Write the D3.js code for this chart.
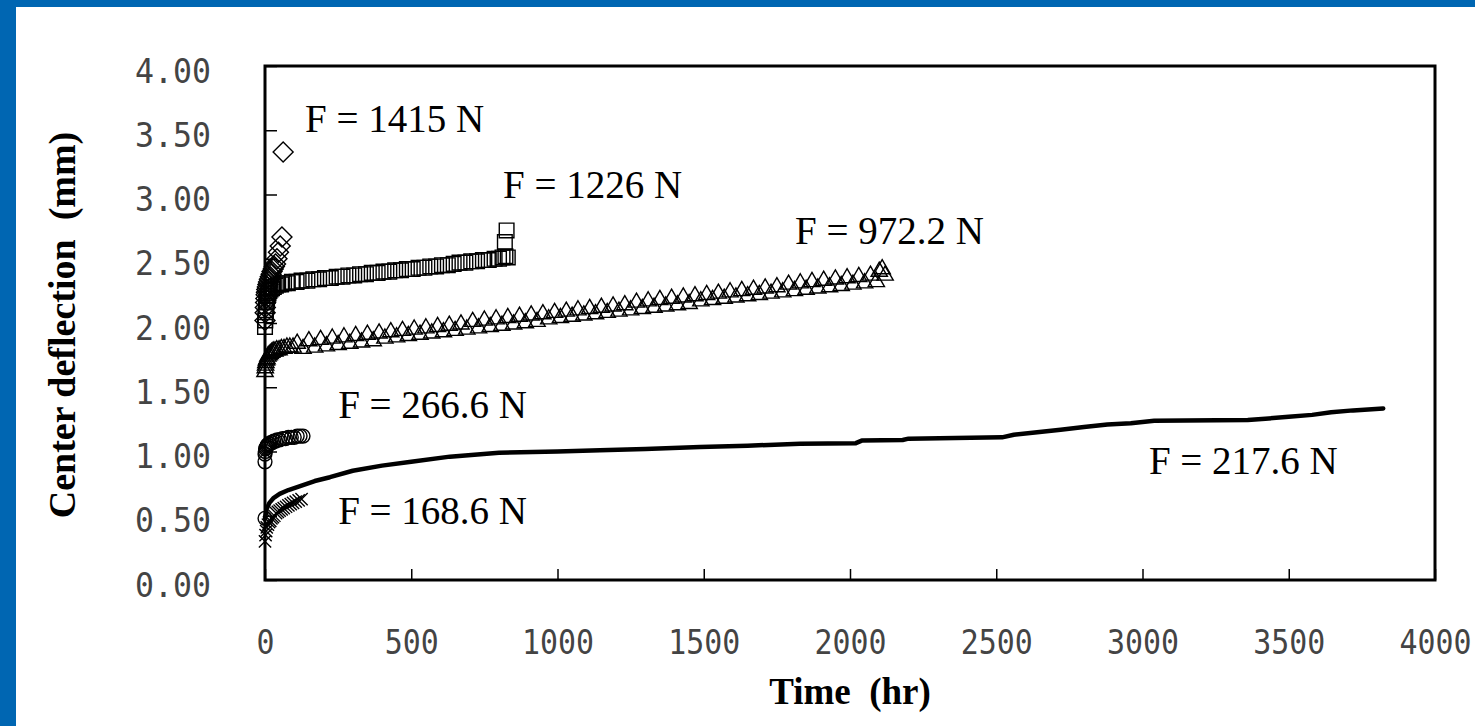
<!DOCTYPE html>
<html>
<head>
<meta charset="utf-8">
<script src="https://cdn.jsdelivr.net/npm/d3@7"></script>
<style>
  html, body { margin: 0; padding: 0; background: #fff; overflow: hidden; }
</style>
</head>
<body>
<svg id="chart" width="1475" height="726"></svg>
<script>
// ---- data: center deflection (mm) vs time (hr) under constant load ----
const xTicks = [0, 500, 1000, 1500, 2000, 2500, 3000, 3500, 4000];
const yTicks = [0, 0.5, 1.0, 1.5, 2.0, 2.5, 3.0, 3.5, 4.0];

const loadLabels = ["F = 1415 N", "F = 1226 N", "F = 972.2 N", "F = 266.6 N", "F = 168.6 N", "F = 217.6 N"];

// F = 1415 N (diamonds)
const time1415 = [0, 0.5, 1, 2, 3, 4, 5, 6, 8, 10, 12, 15, 18, 21, 24, 28, 32, 36, 41, 46, 52, 58, 62];
const defl1415 = [2.02, 2.08, 2.12, 2.16, 2.19, 2.22, 2.24, 2.26, 2.28, 2.30, 2.32, 2.34, 2.36, 2.38, 2.40, 2.42, 2.44, 2.46, 2.50, 2.55, 2.60, 2.67, 3.33];

// F = 1226 N (squares)
const time1226 = [0, 1, 2, 3, 4, 5, 7, 9, 12, 15, 19, 24, 30, 37, 45, 55, 65, 78, 92, 108, 125, 145, 165, 185, 205, 225, 245, 265, 285, 305, 325, 345, 365, 385, 405, 425, 445, 465, 485, 505, 525, 545, 565, 585, 605, 625, 645, 665, 685, 705, 725, 745, 765, 785, 800, 812, 822, 830, 820, 826];
const defl1226 = [1.97, 2.02, 2.06, 2.10, 2.13, 2.16, 2.19, 2.21, 2.23, 2.25, 2.26, 2.27, 2.28, 2.29, 2.30, 2.30, 2.31, 2.31, 2.32, 2.32, 2.33, 2.33, 2.34, 2.34, 2.35, 2.35, 2.36, 2.36, 2.37, 2.37, 2.38, 2.38, 2.39, 2.39, 2.40, 2.40, 2.41, 2.41, 2.42, 2.42, 2.43, 2.43, 2.44, 2.44, 2.45, 2.45, 2.46, 2.47, 2.47, 2.48, 2.48, 2.49, 2.49, 2.50, 2.50, 2.51, 2.52, 2.51, 2.63, 2.72];

// F = 972.2 N (triangles)
const time972 = [0, 1, 2, 3, 5, 7, 10, 14, 18, 23, 28, 34, 40, 48, 56, 65, 75, 85, 96,
  110, 130, 150, 170, 190, 210, 230, 250, 270, 290, 310, 330, 350, 370, 390, 410, 430, 450, 470, 490,
  510, 530, 550, 570, 590, 610, 630, 650, 670, 690, 710, 730, 750, 770, 790, 810, 830, 850, 870, 890,
  910, 930, 950, 970, 990, 1010, 1030, 1050, 1070, 1090, 1110, 1130, 1150, 1170, 1190, 1210, 1230, 1250, 1270, 1290,
  1310, 1330, 1350, 1370, 1390, 1410, 1430, 1450, 1470, 1490, 1510, 1530, 1550, 1570, 1590, 1610, 1630, 1650, 1670, 1690,
  1710, 1730, 1750, 1770, 1790, 1810, 1830, 1850, 1870, 1890, 1910, 1930, 1950, 1970, 1990, 2010, 2030, 2050, 2070, 2090,
  2100, 2110, 2120];
const defl972 = [1.62, 1.65, 1.67, 1.69, 1.71, 1.72, 1.74, 1.75, 1.76, 1.77, 1.78, 1.78, 1.79, 1.79, 1.80, 1.80, 1.81, 1.81, 1.81,
  1.84, 1.80, 1.86, 1.81, 1.87, 1.82, 1.88, 1.83, 1.89, 1.84, 1.90, 1.85, 1.91, 1.86, 1.92, 1.88, 1.93, 1.89, 1.94, 1.90,
  1.95, 1.91, 1.96, 1.92, 1.97, 1.93, 1.98, 1.94, 1.99, 1.95, 2.01, 1.96, 2.02, 1.97, 2.03, 1.98, 2.04, 1.99, 2.05, 2.00,
  2.06, 2.01, 2.07, 2.03, 2.08, 2.04, 2.09, 2.05, 2.10, 2.06, 2.11, 2.07, 2.12, 2.08, 2.13, 2.09, 2.14, 2.10, 2.16, 2.11,
  2.17, 2.12, 2.18, 2.13, 2.19, 2.14, 2.20, 2.15, 2.21, 2.17, 2.22, 2.18, 2.23, 2.19, 2.24, 2.20, 2.25, 2.21, 2.26, 2.22,
  2.27, 2.23, 2.28, 2.24, 2.30, 2.25, 2.31, 2.26, 2.32, 2.27, 2.33, 2.28, 2.34, 2.29, 2.35, 2.30, 2.36, 2.31, 2.37, 2.32,
  2.40, 2.42, 2.37];

// F = 266.6 N (circles)
const time266 = [0, 0, 1, 2, 4, 6, 8, 10, 13, 16, 20, 25, 30, 36, 42, 50, 60, 70, 80, 90, 100, 110, 120, 130];
const defl266 = [0.92, 0.98, 1.00, 1.02, 1.03, 1.04, 1.05, 1.05, 1.06, 1.06, 1.07, 1.07, 1.08, 1.08, 1.09, 1.09, 1.10, 1.10, 1.11, 1.11, 1.11, 1.12, 1.12, 1.12];

// F = 168.6 N (crosses)
const time168 = [0, 2, 4, 6, 10, 14, 18, 22, 27, 32, 38, 44, 50, 57, 64, 72, 80, 88, 96, 105, 115, 125];
const defl168 = [0.30, 0.35, 0.38, 0.41, 0.43, 0.45, 0.46, 0.48, 0.49, 0.50, 0.52, 0.53, 0.54, 0.55, 0.56, 0.57, 0.58, 0.59, 0.60, 0.61, 0.62, 0.63];

// F = 217.6 N (long-term record, dense points drawn as a line)
const time217 = [0, 5, 15, 30, 50, 80, 120, 170, 222, 300, 400, 500, 632, 800, 1000, 1145, 1300, 1487, 1650, 1829, 2020, 2040, 2180, 2200, 2520, 2560, 2640, 2720, 2800, 2880, 2960, 3040, 3360, 3420, 3500, 3580, 3645, 3720, 3823];
const defl217 = [0.48, 0.55, 0.60, 0.64, 0.67, 0.70, 0.73, 0.77, 0.80, 0.85, 0.89, 0.92, 0.96, 0.99, 1.00, 1.01, 1.02, 1.035, 1.045, 1.06, 1.065, 1.085, 1.09, 1.10, 1.11, 1.13, 1.15, 1.17, 1.19, 1.21, 1.22, 1.24, 1.245, 1.255, 1.27, 1.285, 1.305, 1.32, 1.335];

// ---- layout ----
const svg = d3.select("#chart");
const W = 1475, H = 726;
const plot = { left: 265, top: 66, right: 1435, bottom: 580 };

const x = d3.scaleLinear().domain([0, 4000]).range([plot.left, plot.right]);
const y = d3.scaleLinear().domain([0, 4]).range([plot.bottom, plot.top]);

// slide frame
svg.append("rect").attr("width", W).attr("height", H).attr("fill", "#0066b2");
svg.append("rect").attr("x", 16).attr("y", 7).attr("width", W - 16).attr("height", H - 7).attr("fill", "#ffffff");

const zip = (ts, vs) => ts.map((t, i) => ({ t, v: vs[i] }));

// ---- axes ----
const monoFont = "'DejaVu Sans Mono', 'Liberation Mono', monospace";
const fmtY = d3.format(".2f");
const fmtX = d3.format("d");

const gx = svg.append("g")
  .attr("transform", `translate(0,${plot.bottom})`)
  .call(d3.axisBottom(x).tickValues(xTicks).tickSize(-11).tickFormat(fmtX));
gx.select(".domain").remove();
gx.selectAll(".tick line").attr("stroke", "#000").attr("stroke-width", 1.5);
gx.selectAll(".tick text")
  .attr("y", 74).attr("dy", null)
  .attr("fill", "#444")
  .style("font-family", monoFont).style("font-size", "33px")
  .attr("text-anchor", "middle")
  .each(function (d) {
    d3.select(this).attr("textLength", fmtX(d).length * 18).attr("lengthAdjust", "spacingAndGlyphs");
  });

const gy = svg.append("g")
  .attr("transform", `translate(${plot.left},0)`)
  .call(d3.axisLeft(y).tickValues(yTicks).tickSize(-12).tickFormat(fmtY));
gy.select(".domain").remove();
gy.selectAll(".tick line").attr("stroke", "#000").attr("stroke-width", 1.5);
gy.selectAll(".tick text")
  .attr("x", -54).attr("y", 16).attr("dy", null)
  .attr("fill", "#444")
  .style("font-family", monoFont).style("font-size", "33px")
  .attr("text-anchor", "end")
  .each(function (d) {
    d3.select(this).attr("textLength", fmtY(d).length * 19).attr("lengthAdjust", "spacingAndGlyphs");
  });

// axis titles
const serif = "'Liberation Serif', 'Times New Roman', serif";
svg.append("text")
  .attr("x", (plot.left + plot.right) / 2).attr("y", 704)
  .attr("text-anchor", "middle")
  .style("font-family", serif).style("font-size", "37px").style("font-weight", "bold")
  .attr("xml:space", "preserve")
  .text("Time  (hr)");

svg.append("text")
  .attr("transform", "translate(75,325) rotate(-90)")
  .attr("text-anchor", "middle")
  .style("font-family", serif).style("font-size", "38px").style("font-weight", "bold")
  .attr("xml:space", "preserve")
  .text("Center deflection  (mm)");

// ---- series ----
const marks = svg.append("g").attr("fill", "none").attr("stroke", "#000").attr("stroke-width", 1.4);

const crossType = {
  draw(ctx, size) {
    const r = Math.sqrt(size) / 2;
    ctx.moveTo(-r, -r); ctx.lineTo(r, r);
    ctx.moveTo(r, -r); ctx.lineTo(-r, r);
  }
};

function drawSeries(data, type, size, rot) {
  marks.append("g").selectAll("path")
    .data(data)
    .join("path")
    .attr("d", d3.symbol(type, size))
    .attr("transform", d => `translate(${x(d.t)},${y(d.v)})` + (rot ? ` rotate(${rot})` : ""));
}

// long-term curve
const line = d3.line().x(d => x(d.t)).y(d => y(d.v));
const s217 = zip(time217, defl217);
marks.append("path")
  .datum(s217)
  .attr("d", line)
  .attr("stroke-width", 4.5)
  .attr("stroke-linejoin", "round")
  .attr("stroke-linecap", "round");
drawSeries(s217.slice(0, 1), d3.symbolCircle, 150);

drawSeries(zip(time168, defl168), crossType, 150);
drawSeries(zip(time266, defl266), d3.symbolCircle, 150);
drawSeries(zip(time972, defl972), d3.symbolTriangle, 115);
drawSeries(zip(time1226, defl1226), d3.symbolSquare, 215);
drawSeries(zip(time1415, defl1415), d3.symbolSquare, 200, 45);

// ---- plot frame ----
svg.append("rect")
  .attr("x", plot.left).attr("y", plot.top)
  .attr("width", plot.right - plot.left).attr("height", plot.bottom - plot.top)
  .attr("fill", "none").attr("stroke", "#000").attr("stroke-width", 3);

// ---- load annotations (left edge / baseline in data units) ----
const labelAnchors = [
  { t: 137, v: 3.486 },
  { t: 814, v: 2.973 },
  { t: 1812, v: 2.615 },
  { t: 250, v: 1.261 },
  { t: 250, v: 0.436 },
  { t: 3022, v: 0.825 }
];
svg.append("g").selectAll("text")
  .data(loadLabels)
  .join("text")
  .attr("x", (d, i) => x(labelAnchors[i].t))
  .attr("y", (d, i) => y(labelAnchors[i].v))
  .style("font-family", serif).style("font-size", "39px")
  .attr("fill", "#000")
  .text(d => d);
</script>
</body>
</html>
